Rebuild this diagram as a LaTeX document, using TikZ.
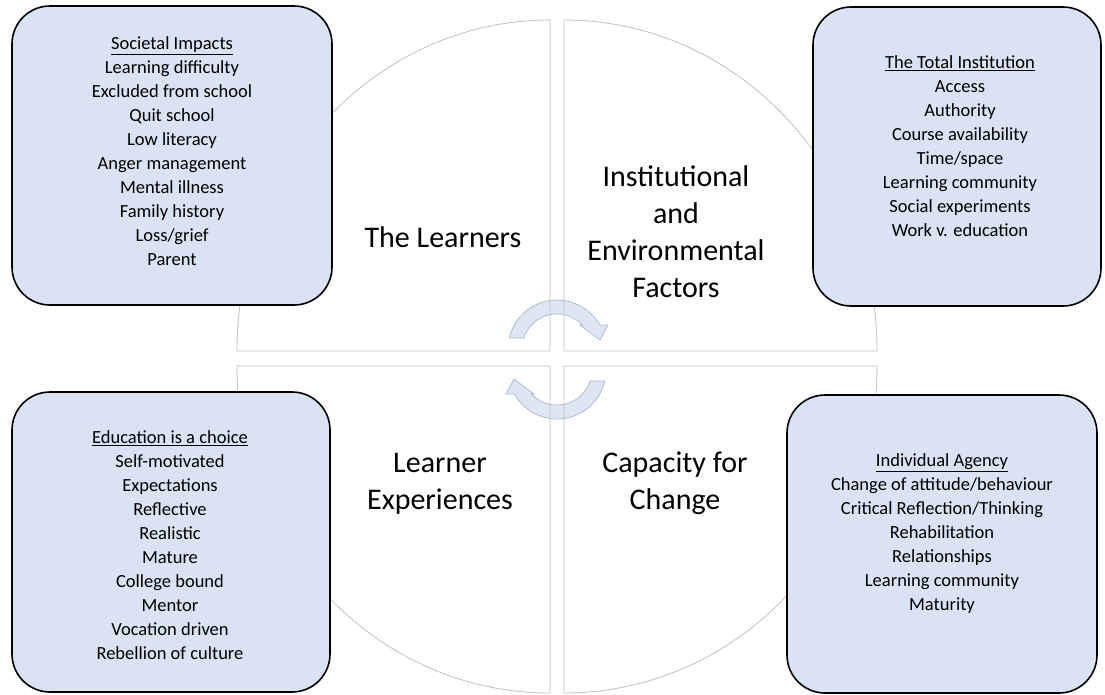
\documentclass[tikz,border=0pt]{standalone}
\usepackage{fontspec}
\setmainfont{Carlito}
\usetikzlibrary{calc}
\definecolor{quad_grey}{RGB}{191,191,191}
\definecolor{box_blue}{RGB}{218,227,243}
\definecolor{turn_blue}{RGB}{221,230,242}
\definecolor{turn_edge}{RGB}{165,183,208}
\tikzstyle{quad}=[draw=quad_grey,line width=0.8pt]
\tikzstyle{box}=[rectangle,rounded corners=38pt,fill=box_blue,draw=black,
  line width=1.6pt,inner sep=0pt]
\tikzstyle{list}=[align=center,inner sep=0pt,font=\fontsize{18.5}{24}\selectfont]
\tikzstyle{title}=[align=center,inner sep=0pt,font=\fontsize{30}{37}\selectfont]
\tikzstyle{turn}=[fill=turn_blue,draw=turn_edge,line width=0.7pt]

\begin{document}
\begin{tikzpicture}[x=1pt,y=-1pt]
    \useasboundingbox (0,0) rectangle (1105,694);
    \coordinate (c1) at (557,349);
    \coordinate (c2) at (557,370);
    \filldraw [style=turn] ($(c1)+(193:49)$) arc[start angle=193,end angle=330.7,radius=49]
      -- (608,325) -- (600,340) -- (580,325) -- ($(c1)+(316.7:35)$)
      arc[start angle=316.7,end angle=198.3,radius=35] -- cycle;
    \filldraw [style=turn] ($(c2)+(13:49)$) arc[start angle=13,end angle=150.7,radius=49]
      -- (506,394) -- (514,379) -- (534,394) -- ($(c2)+(136.7:35)$)
      arc[start angle=136.7,end angle=18.3,radius=35] -- cycle;
    \draw [style=quad] (550,351) -- (237,351) arc[start angle=180,end angle=270,x radius=313,y radius=331] -- cycle;
    \draw [style=quad] (564,351) -- (564,20) arc[start angle=270,end angle=360,x radius=313,y radius=331] -- cycle;
    \draw [style=quad] (564,366) -- (877,366) arc[start angle=0,end angle=90,x radius=313,y radius=327] -- cycle;
    \draw [style=quad] (550,366) -- (550,693) arc[start angle=90,end angle=180,x radius=313,y radius=327] -- cycle;
    \node [style=box, minimum width=320pt, minimum height=299pt] (impactbox) at (172,155.5) {};
    \node [style=box, minimum width=288pt, minimum height=299pt] (institutionbox) at (957,156.5) {};
    \node [style=box, minimum width=318pt, minimum height=300pt] (choicebox) at (171,542) {};
    \node [style=box, minimum width=310pt, minimum height=298pt] (agencybox) at (942,544) {};
    \node [style=list] (impacts) at (172,151) {\underline{Societal Impacts}\\Learning difficulty\\Excluded from school\\Quit school\\Low literacy\\Anger management\\Mental illness\\Family history\\Loss/grief\\Parent};
    \node [style=list] (institution) at (960,146) {\underline{The Total Institution}\\Access\\Authority\\Course availability\\Time/space\\Learning community\\Social experiments\\Work v. education};
    \node [style=list] (choice) at (170,545) {\underline{Education is a choice}\\Self-motivated\\Expectations\\Reflective\\Realistic\\Mature\\College bound\\Mentor\\Vocation driven\\Rebellion of culture};
    \node [style=list] (agency) at (942,534) {\underline{Individual Agency}\\Change of attitude/behaviour\\Critical Reflection/Thinking\\Rehabilitation\\Relationships\\Learning community\\Maturity};
    \node [style=title] (learners) at (443,237) {The Learners};
    \node [style=title] (factors) at (676,231.5) {Institutional\\and\\Environmental\\Factors};
    \node [style=title] (experiences) at (440,483.5) {Learner\\Experiences};
    \node [style=title] (capacity) at (675,483.5) {Capacity for\\Change};
  \end{tikzpicture}
\end{document}
